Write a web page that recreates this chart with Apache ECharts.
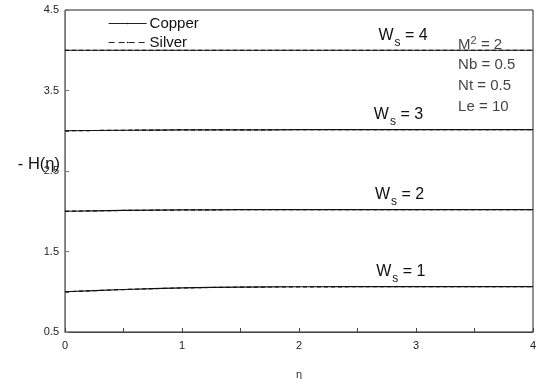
<!DOCTYPE html>
<html><head><meta charset="utf-8">
<script src="https://cdn.jsdelivr.net/npm/echarts@6/dist/echarts.min.js"></script>
<style>html,body{margin:0;padding:0;background:#fff}#c{width:538px;height:379px}</style>
</head><body><div id="c"></div>
<script>
const eta = [0, 0.25, 0.5, 0.75, 1, 1.25, 1.5, 1.75, 2, 2.5, 3, 3.5, 4];
const copperWs1 = [1.0, 1.015, 1.028, 1.039, 1.048, 1.054, 1.058, 1.06, 1.062, 1.063, 1.063, 1.063, 1.063];
const copperWs2 = [2.0, 2.005, 2.01, 2.013, 2.016, 2.018, 2.019, 2.02, 2.02, 2.02, 2.02, 2.02, 2.02];
const copperWs3 = [3.0, 3.003, 3.006, 3.008, 3.01, 3.011, 3.012, 3.012, 3.013, 3.013, 3.013, 3.013, 3.013];
const copperWs4 = [4.0, 4.0, 4.0, 4.0, 4.0, 4.0, 4.0, 4.0, 4.0, 4.0, 4.0, 4.0, 4.0];
const silverWs1 = [1.0, 1.014, 1.027, 1.038, 1.047, 1.053, 1.057, 1.059, 1.061, 1.062, 1.062, 1.062, 1.062];
const silverWs2 = [2.0, 2.005, 2.01, 2.013, 2.016, 2.018, 2.019, 2.02, 2.02, 2.02, 2.02, 2.02, 2.02];
const silverWs3 = [3.0, 3.003, 3.006, 3.008, 3.01, 3.011, 3.012, 3.012, 3.013, 3.013, 3.013, 3.013, 3.013];
const silverWs4 = [4.0, 4.0, 4.0, 4.0, 4.0, 4.0, 4.0, 4.0, 4.0, 4.0, 4.0, 4.0, 4.0];
const wsValues = [1, 2, 3, 4];
const wsLabelPos = [[2.87, 1.063], [2.86, 2.02], [2.85, 3.013], [2.89, 4.0]];
const params = ['M{sup|2} = 2', 'Nb = 0.5', 'Nt = 0.5', 'Le = 10'];
const paramPos = [[3.36, 4.065], [3.36, 3.815], [3.36, 3.56], [3.36, 3.30]];

const copper = [copperWs1, copperWs2, copperWs3, copperWs4];
const silver = [silverWs1, silverWs2, silverWs3, silverWs4];
const font = 'Liberation Sans, Arial, sans-serif';
const pair = arr => eta.map((e, i) => [e, arr[i]]);

const series = [];
copper.forEach((d, k) => {
  series.push({
    name: 'Copper', type: 'line', data: pair(d), showSymbol: false, symbol: 'none',
    lineStyle: { color: '#111', width: 1.2, type: 'solid' }, itemStyle: { color: '#111' },
    silent: true, z: 3,
    markPoint: {
      symbol: 'circle', symbolSize: 0, silent: true,
      data: [{ coord: wsLabelPos[k], value: wsValues[k] }],
      label: {
        show: true, position: 'top', distance: 2, color: '#111',
        formatter: p => 'W{sub|s} = ' + p.value,
        fontFamily: font, fontSize: 16,
        rich: { sub: { fontSize: 12, verticalAlign: 'bottom', padding: [14, 0, 0, 1], fontFamily: font, color: '#111' } }
      }
    }
  });
});
silver.forEach((d) => {
  series.push({
    name: 'Silver', type: 'line', data: pair(d), showSymbol: false, symbol: 'none',
    lineStyle: { color: '#111', width: 1.2, type: [4, 3] }, itemStyle: { color: '#111' },
    silent: true, z: 4
  });
});
series.push({
  type: 'scatter', data: paramPos, symbolSize: 0, silent: true,
  label: {
    show: true, position: 'right', distance: 0, color: '#111', fontFamily: font, fontSize: 15,
    formatter: p => params[p.dataIndex],
    rich: { sup: { fontSize: 11, verticalAlign: 'top', padding: [0, 0, 8, 0], fontFamily: font, color: '#111' } }
  }
});

const chart = echarts.init(document.getElementById('c'), null, { renderer: 'canvas' });
chart.setOption({
  animation: false,
  backgroundColor: '#fff',
  grid: { left: 65, right: 5, top: 10, bottom: 47, show: true, borderColor: '#222', borderWidth: 1,
    containLabel: false, outerBoundsMode: 'none' },
  legend: {
    data: [
      { name: 'Copper', lineStyle: { type: 'solid', width: 1.2, color: '#222' } },
      { name: 'Silver', lineStyle: { type: [6, 4], width: 1.2, color: '#222' } }
    ],
    orient: 'vertical', left: 103, top: 11, itemWidth: 38, itemHeight: 2, itemGap: 4,
    textStyle: { fontFamily: font, fontSize: 15, color: '#111', padding: [0, 0, 0, -2] },
    selectedMode: false
  },
  xAxis: {
    type: 'value', min: 0, max: 4, interval: 0.5,
    name: 'η', nameLocation: 'middle', nameGap: 37,
    nameTextStyle: { fontFamily: font, fontSize: 11, color: '#333' },
    axisLine: { show: true, lineStyle: { color: '#444', width: 1 } },
    axisTick: { show: true, inside: true, length: 4, lineStyle: { color: '#444' } },
    axisLabel: { margin: 8, fontFamily: font, fontSize: 11, color: '#222',
      formatter: v => (Math.abs(v - Math.round(v)) < 1e-9 ? String(Math.round(v)) : '') },
    splitLine: { show: false }
  },
  yAxis: {
    type: 'value', min: 0.5, max: 4.5, interval: 0.5,
    name: '- H(η)', nameLocation: 'middle', nameRotate: 0, nameGap: 5, nameMoveOverlap: false,
    nameTextStyle: { fontFamily: font, fontSize: 16.5, color: '#111', verticalAlign: 'bottom', padding: [0, 0, -2, 0] },
    axisLine: { show: true, lineStyle: { color: '#777', width: 1 } },
    axisTick: { show: true, inside: true, length: 4, lineStyle: { color: '#777' } },
    axisLabel: { margin: 6, fontFamily: font, fontSize: 11, color: '#222',
      formatter: v => (Math.abs(v - Math.round(v)) > 0.25 ? v.toFixed(1) : '') },
    splitLine: { show: false }
  },
  series: series
});
</script></body></html>
